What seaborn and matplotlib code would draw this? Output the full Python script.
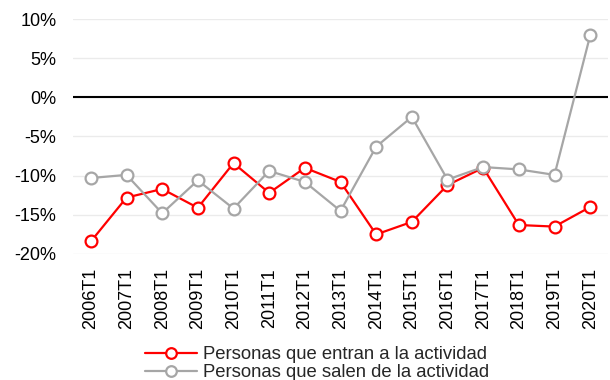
import matplotlib
matplotlib.use("Agg")
import matplotlib.pyplot as plt
import matplotlib.ticker as mticker
import pandas as pd
import seaborn as sns

# Tasa de variación interanual (primer trimestre de cada año), en %
periodos = ["2006T1", "2007T1", "2008T1", "2009T1", "2010T1", "2011T1", "2012T1",
            "2013T1", "2014T1", "2015T1", "2016T1", "2017T1", "2018T1", "2019T1",
            "2020T1"]
entran = [-18.4, -12.8, -11.7, -14.1, -8.4, -12.2, -9.0, -10.8, -17.5, -15.9,
          -11.2, -9.0, -16.3, -16.5, -14.0]
salen = [-10.3, -9.9, -14.8, -10.6, -14.2, -9.4, -10.8, -14.5, -6.3, -2.5,
         -10.5, -8.9, -9.2, -9.9, 7.9]
serie_entran = "Personas que entran a la actividad"
serie_salen = "Personas que salen de la actividad"
y_ticks = [-20, -15, -10, -5, 0, 5, 10]

sns.set_theme(style="white")
plt.rcParams["font.family"] = ["Liberation Sans", "DejaVu Sans"]

df = pd.DataFrame({"periodo": periodos * 2,
                   "valor": entran + salen,
                   "serie": [serie_entran] * len(periodos) + [serie_salen] * len(periodos)})

fig = plt.figure(figsize=(6.1, 3.8), dpi=100)
ax = fig.add_axes([73 / 610, 1 - 254 / 380, (608 - 73) / 610, (254 - 19) / 380])

colores = {serie_entran: "#FF0000", serie_salen: "#A6A6A6"}
for serie in [serie_entran, serie_salen]:
    sns.lineplot(data=df[df["serie"] == serie], x="periodo", y="valor",
                 color=colores[serie], linewidth=1.6, marker="o", markersize=8.5,
                 markerfacecolor="white", markeredgecolor=colores[serie],
                 markeredgewidth=1.6, label=serie, ax=ax, sort=False)

ax.set_xlim(-0.5, len(periodos) - 0.5)
ax.set_ylim(-20, 10)
ax.set_yticks(y_ticks)
ax.yaxis.set_major_formatter(mticker.FuncFormatter(lambda v, p: f"{int(round(v))}%"))
ax.grid(axis="y", color="#EBEBEB", linewidth=1.0, zorder=0)
ax.set_axisbelow(True)
ax.axhline(0, color="black", linewidth=1.5, zorder=1.5)

for s in ax.spines.values():
    s.set_visible(False)
ax.tick_params(axis="both", length=0, labelsize=13, colors="black")
ax.tick_params(axis="y", pad=12)
ax.tick_params(axis="x", pad=10)
plt.setp(ax.get_xticklabels(), rotation=90)
ax.set_xlabel("")
ax.set_ylabel("")

handles, labels = ax.get_legend_handles_labels()
ax.get_legend().remove()
fig.legend(handles, labels, loc="upper left", bbox_to_anchor=(145 / 610, 1 - 346 / 380),
           frameon=False, fontsize=13.3, borderpad=0, borderaxespad=0,
           handlelength=2.8, handletextpad=0.35, labelspacing=0.07,
           markerscale=0.9)

fig.savefig("out.png", dpi=100)
